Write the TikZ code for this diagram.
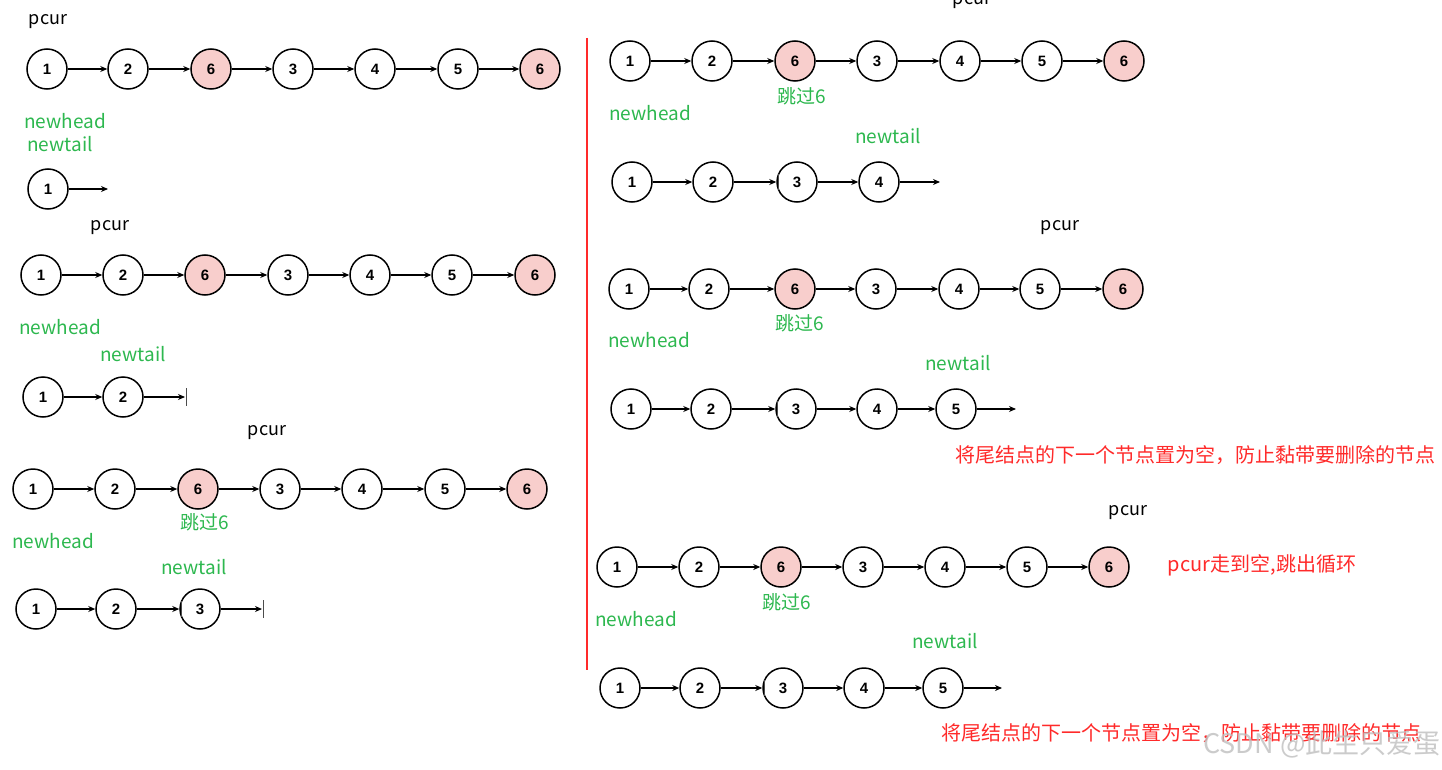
\documentclass[tikz,border=0pt]{standalone}
\usepackage{fontspec}
\setmainfont{Noto Sans CJK SC}
\newfontfamily\numf{Liberation Sans}
\usetikzlibrary{arrows.meta}
\definecolor{gtxt}{HTML}{2DB84F}
\definecolor{rtxt}{HTML}{FF2A2A}
\definecolor{pinkf}{HTML}{F8CECC}
\newcommand\chainrow[3]{\foreach \x/\l/\s [count=\i] in {#3} \node[\s] (#1\i) at (\x,#2) {\l};}
\newcommand\links[2]{\foreach \i [evaluate=\i as \j using int(\i-1)] in {2,...,#2} \draw[arr] (#1\j) -- (#1\i);}
\begin{document}
\begin{tikzpicture}[x=1pt,y=-1pt,
  nd/.style={circle,draw=black,line width=1.5pt,fill=white,minimum size=40pt,inner sep=0pt,font=\numf\bfseries\fontsize{15}{15}\selectfont},
  pk/.style={nd,fill=pinkf},
  arr/.style={line width=1.3pt,-{Stealth[length=7pt,width=6pt]}},
  tick/.style={line width=0.8pt,black!70},
  lbl/.style={font=\fontsize{18}{18}\selectfont,inner sep=0pt},
  grn/.style={font=\fontsize{19}{19}\selectfont,text=gtxt,inner sep=0pt},
  red/.style={font=\fontsize{20}{20}\selectfont,text=rtxt,inner sep=0pt}]
\useasboundingbox (0,0) rectangle (1442,770);
\fill[white] (0,0) rectangle (1442,770);

% ---------------- Panel A ----------------
\node[lbl] (pA) at (48,22) {pcur};
\chainrow{a}{69}{47/1/nd,128/2/nd,211/6/pk,293/3/nd,375/4/nd,458/5/nd,540/6/pk}
\links{a}{7}
\node[grn,anchor=west] (nhA) at (24,121) {newhead};
\node[grn,anchor=west] (ntA) at (27,144) {newtail};
\chainrow{aa}{189}{48/1/nd}
\coordinate (aaE) at (108,189);
\draw[arr] (aa1) -- (aaE);

% ---------------- Panel B ----------------
\node[lbl] (pB) at (110,228) {pcur};
\chainrow{b}{275}{41/1/nd,123/2/nd,205/6/pk,288/3/nd,370/4/nd,452/5/nd,535/6/pk}
\links{b}{7}
\node[grn,anchor=west] (nhB) at (19,327) {newhead};
\node[grn,anchor=west] (ntB) at (100,354) {newtail};
\chainrow{bb}{397}{43/1/nd,123/2/nd}
\links{bb}{2}
\coordinate (bbE) at (185,397);
\draw[arr] (bb2) -- (bbE);
\draw[tick] (186,388) -- (186,406);

% ---------------- Panel C ----------------
\node[lbl] (pC) at (267,433) {pcur};
\chainrow{c}{489}{33/1/nd,115/2/nd,198/6/pk,280/3/nd,362/4/nd,445/5/nd,527/6/pk}
\links{c}{7}
\node[grn] (skC) at (205,522) {跳过6};
\node[grn,anchor=west] (nhC) at (12,541) {newhead};
\node[grn,anchor=west] (ntC) at (161,567) {newtail};
\chainrow{cc}{609}{36/1/nd,116/2/nd,200/3/nd}
\links{cc}{3}
\draw[tick] (181,601) -- (181,617);
\coordinate (ccE) at (262,609);
\draw[arr] (cc3) -- (ccE);
\draw[tick] (263,600) -- (263,618);

% ---------------- divider ----------------
\draw[rtxt,line width=2pt] (587,38) -- (587,670);

% ---------------- Panel D ----------------
\node[lbl] (pD) at (972,2) {pcur};
\chainrow{d}{61}{630/1/nd,712/2/nd,795/6/pk,877/3/nd,960/4/nd,1042/5/nd,1124/6/pk}
\links{d}{7}
\node[grn] (skD) at (802,96) {跳过6};
\node[grn,anchor=west] (nhD) at (609,113) {newhead};
\node[grn,anchor=west] (ntD) at (855,136) {newtail};
\chainrow{dd}{182}{632/1/nd,713/2/nd,797/3/nd,879/4/nd}
\links{dd}{4}
\draw[tick] (778,174) -- (778,190);
\coordinate (ddE) at (940,182);
\draw[arr] (dd4) -- (ddE);

% ---------------- Panel E ----------------
\node[lbl] (pE) at (1060,228) {pcur};
\chainrow{e}{289}{629/1/nd,709/2/nd,795/6/pk,876/3/nd,959/4/nd,1040/5/nd,1123/6/pk}
\links{e}{7}
\node[grn] (skE) at (800,323) {跳过6};
\node[grn,anchor=west] (nhE) at (608,340) {newhead};
\node[grn,anchor=west] (ntE) at (925,363) {newtail};
\chainrow{ee}{409}{631/1/nd,711/2/nd,796/3/nd,877/4/nd,956/5/nd}
\links{ee}{5}
\draw[tick] (777,401) -- (777,417);
\coordinate (eeE) at (1016,409);
\draw[arr] (ee5) -- (eeE);
\node[red] (noteE) at (1195,455) {将尾结点的下一个节点置为空，防止黏带要删除的节点};

% ---------------- Panel F ----------------
\node[lbl] (pF) at (1128,513) {pcur};
\chainrow{f}{567}{617/1/nd,699/2/nd,781/6/pk,863/3/nd,945/4/nd,1027/5/nd,1109/6/pk}
\links{f}{7}
\node[grn] (skF) at (787,602) {跳过6};
\node[grn,anchor=west] (nhF) at (595,619) {newhead};
\node[grn,anchor=west] (ntF) at (912,641) {newtail};
\chainrow{ff}{688}{620/1/nd,700/2/nd,783/3/nd,864/4/nd,943/5/nd}
\links{ff}{5}
\draw[tick] (764,680) -- (764,696);
\coordinate (ffE) at (1002,688);
\draw[arr] (ff5) -- (ffE);
\node[red] (endF) at (1262,565) {pcur走到空,跳出循环};
\node[red] (noteF) at (1181,733) {将尾结点的下一个节点置为空，防止黏带要删除的节点};
\node[font=\fontsize{27}{27}\selectfont,text=black!25,inner sep=0pt,opacity=0.8] (wm) at (1322,744) {CSDN @此生只爱蛋};
\end{tikzpicture}
\end{document}
